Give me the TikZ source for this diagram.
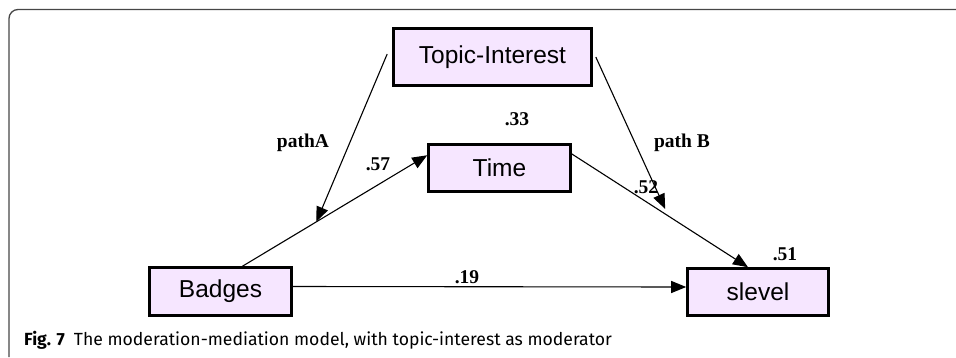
\documentclass[tikz,border=0pt]{standalone}
\usepackage{fontspec}
\setmainfont{Liberation Serif}
\setsansfont{Liberation Sans}
\newfontfamily\capfont{Fira Sans}
\usepackage{tikz}
\usetikzlibrary{arrows.meta}
\definecolor{boxfill}{RGB}{246,230,255}
\definecolor{framegray}{RGB}{70,70,70}
\tikzset{
    varbox/.style={draw=black, line width=2.6pt, fill=boxfill, inner sep=0pt,
        font=\sffamily\fontsize{24.5}{28}\selectfont},
    pathline/.style={line width=1.1pt, -{Triangle[length=15pt, width=12pt]}},
    coef/.style={font=\bfseries\fontsize{19.5}{22}\selectfont, inner sep=0pt}
}
\begin{document}
\begin{tikzpicture}[x=1pt, y=-1pt]
                \useasboundingbox (0,0) rectangle (956,357);
                % frame of the figure
                \draw[framegray, line width=1.3pt, rounded corners=9pt] (9,357) -- (9,9.5) -- (957,9.5);
                % variables
                \node[varbox, minimum width=198pt, minimum height=57pt] (topic) at (492.5,57) {Topic-Interest};
                \node[varbox, minimum width=142pt, minimum height=47pt] (time) at (499.5,168) {Time};
                \node[varbox, minimum width=142pt, minimum height=48pt] (badges) at (220.5,291.5) {Badges};
                \node[varbox, minimum width=141pt, minimum height=47pt] (slevel) at (758,292) {slevel};
                % paths
                \draw[pathline] (badges.49) -- coordinate[pos=0.4] (mA) (time.170);
                \draw[pathline] (time.11) -- coordinate[pos=0.53] (mB) ([xshift=-10pt]slevel.north);
                \draw[pathline] ([yshift=5pt]badges.east) -- ([yshift=5pt]slevel.west);
                \draw[pathline] ([xshift=-5pt,yshift=3pt]topic.west) -- (mA);
                \draw[pathline] ([xshift=3pt]topic.east) -- ([yshift=5pt]mB);
                % coefficients
                \node[coef] (pathA) at (303,143) {pathA};
                \node[coef] (pathB) at (682,143) {path B};
                \node[coef] (c57) at (378,164) {.57};
                \node[coef] (c33) at (517,119) {.33};
                \node[coef] (c52) at (646,187) {.52};
                \node[coef] (c51) at (785,254) {.51};
                \node[coef] (c19) at (467,277) {.19};
                % caption
                \node[anchor=base west, inner sep=0pt, font=\capfont\fontsize{17.6}{20}\selectfont] (caption) at (24,345)
                    {\textbf{Fig. 7}\hspace{9pt}The moderation-mediation model, with topic-interest as moderator};
            \end{tikzpicture}
\end{document}
